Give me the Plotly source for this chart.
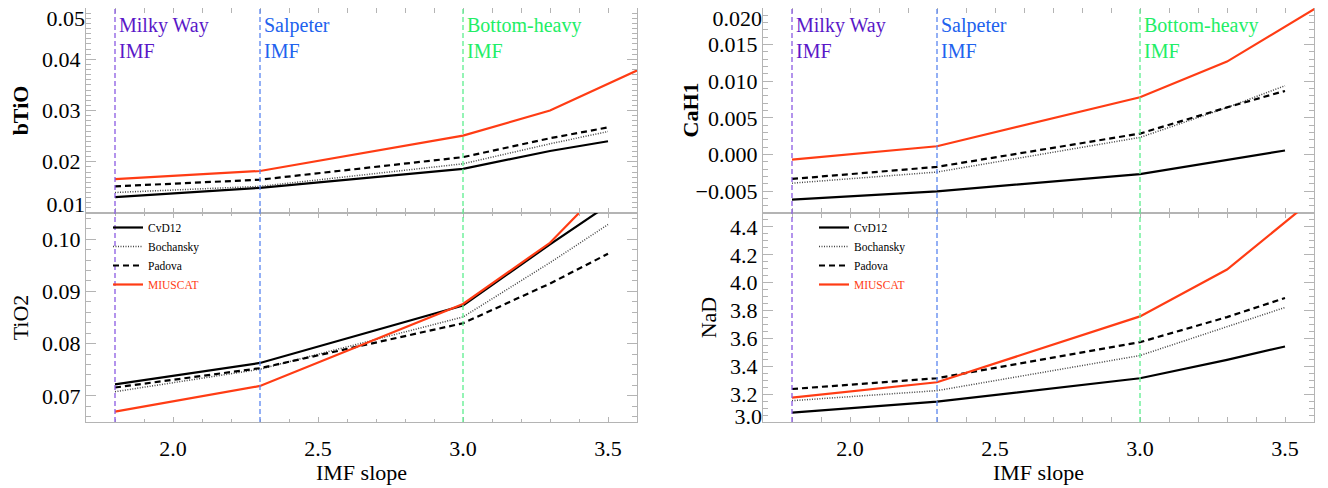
import plotly.graph_objects as go

# ---------------- data ----------------
x_models = [1.8, 2.3, 3.0, 3.3, 3.5]
x_miuscat = [1.8, 2.3, 3.0, 3.3, 3.8]

btio_cvd12 = [0.0131, 0.0149, 0.0186, 0.0221, 0.0240]
btio_boch = [0.0140, 0.0152, 0.0196, 0.0235, 0.0259]
btio_padova = [0.0152, 0.0165, 0.0209, 0.0246, 0.0267]
btio_miuscat = [0.0166, 0.0182, 0.0251, 0.0300, 0.0430]

tio2_cvd12 = [0.0722, 0.0763, 0.0873, 0.0990, 0.1065]
tio2_boch = [0.0708, 0.0751, 0.0851, 0.0955, 0.1028]
tio2_padova = [0.0716, 0.0753, 0.0839, 0.0915, 0.0972]
tio2_miuscat = [0.0670, 0.0719, 0.0876, 0.0993, 0.1278]

cah1_cvd12 = [-0.00616, -0.00505, -0.00268, -0.00071, 0.00054]
cah1_boch = [-0.00393, -0.00241, 0.00232, 0.00640, 0.00938]
cah1_padova = [-0.00335, -0.00170, 0.00285, 0.00643, 0.00867]
cah1_miuscat = [-0.00071, 0.00112, 0.00781, 0.01268, 0.02460]

nad_cvd12 = [3.067, 3.146, 3.314, 3.446, 3.542]
nad_boch = [3.153, 3.225, 3.477, 3.686, 3.822]
nad_padova = [3.237, 3.314, 3.573, 3.753, 3.890]
nad_miuscat = [3.175, 3.285, 3.758, 4.094, 4.943]

model_names = ["CvD12", "Bochansky", "Padova", "MIUSCAT"]
imf_refs = [1.8, 2.3, 3.0]
imf_labels = ["Milky Way<br>IMF", "Salpeter<br>IMF", "Bottom-heavy<br>IMF"]
imf_text_colors = ["#5a18c8", "#2162ee", "#22ee66"]
imf_line_colors = ["#8a5ae2", "#5a86f0", "#5cee8e"]

# ---------------- styles ----------------
RED = "#ff3c14"
FONT = "Liberation Serif"
styles = [
    dict(color="black", width=2.2, dash="solid"),
    dict(color="#444444", width=1.5, dash="1px,1.5px"),
    dict(color="black", width=2.2, dash="6px,4px"),
    dict(color=RED, width=2.2, dash="solid"),
]
legend_names = model_names[:3] + [f"<span style='color:{RED}'>MIUSCAT</span>"]

# the page body has an 8px margin: figure is drawn at (8, 8) in the window
OFF = 8
W, H = 1320, 480
def px(v):
    return min(max((v - OFF) / W, 0.0), 1.0)
def py(v):
    return min(max((H - (v - OFF)) / H, 0.0), 1.0)

left_dom = [px(86), px(637)]
right_dom = [px(763), px(1314)]
top_dom = [py(213), py(8)]
bot_dom = [py(422), py(213)]

fig = go.Figure()

panels = [
    ([btio_cvd12, btio_boch, btio_padova, btio_miuscat], "x", "y", None),
    ([tio2_cvd12, tio2_boch, tio2_padova, tio2_miuscat], "x2", "y2", "legend"),
    ([cah1_cvd12, cah1_boch, cah1_padova, cah1_miuscat], "x3", "y3", None),
    ([nad_cvd12, nad_boch, nad_padova, nad_miuscat], "x4", "y4", "legend2"),
]

for series, xa, ya, leg in panels:
    for i, vals in enumerate(series):
        xs = x_miuscat if i == 3 else x_models
        kw = dict(showlegend=False)
        if leg is not None:
            kw = dict(showlegend=True, legend=leg)
        fig.add_trace(go.Scatter(
            x=xs, y=vals, mode="lines", name=legend_names[i],
            line=styles[i], xaxis=xa, yaxis=ya, hoverinfo="skip", **kw))

AXC = "#b4b4b4"
TICKFONT = dict(family=FONT, size=22, color="black")
TITLEFONT = dict(family=FONT, size=22, color="black")

def xaxis(domain, anchor, labels, title=None):
    d = dict(domain=domain, anchor=anchor, range=[1.70, 3.60], automargin=False,
             showgrid=False, zeroline=False, showline=True, linecolor=AXC, linewidth=1.2,
             mirror="allticks", ticks="inside", ticklen=5, tickcolor=AXC, tickwidth=1,
             dtick=0.5, tick0=2.0, tickformat=".1f", ticklabelstandoff=6,
             minor=dict(dtick=0.1, tick0=2.0, ticks="inside", ticklen=3, tickcolor=AXC),
             showticklabels=labels, tickfont=TICKFONT)
    if title:
        d["title"] = dict(text=title, font=TITLEFONT, standoff=1)
    return d

def yaxis(domain, anchor, rng, dtick, minor, fmt, title, bold, standoff, hide):
    d = dict(domain=domain, anchor=anchor, range=rng, automargin=False,
             showgrid=False, zeroline=False, showline=True, linecolor=AXC, linewidth=1.2,
             mirror="allticks", ticks="inside", ticklen=10, tickcolor=AXC, tickwidth=1,
             dtick=dtick, tick0=0, tickformat=fmt, labelalias={h: "" for h in hide},
             minor=dict(dtick=minor, tick0=0, ticks="inside", ticklen=5, tickcolor=AXC),
             tickfont=TICKFONT)
    if title:
        t = f"<b>{title}</b>" if bold else title
        d["title"] = dict(text=t, font=TITLEFONT, standoff=standoff)
    return d

def edge_axis(domain, anchor, overlay, rng, val, text, shift):
    # extra overlaid axis used only to place an edge tick label slightly inside the frame
    return dict(domain=domain, anchor=anchor, overlaying=overlay, side="left", range=rng,
                automargin=False, showgrid=False, zeroline=False, showline=False, ticks="",
                tickmode="array", tickvals=[val], ticktext=[text], ticklabelshift=shift,
                ticklabeloverflow="allow", tickfont=TICKFONT)

# empty traces so that the overlaid label axes get drawn
for xa, ya in [("x", "y5"), ("x", "y6"), ("x3", "y7"), ("x4", "y8")]:
    fig.add_trace(go.Scatter(x=[None], y=[None], mode="lines", xaxis=xa, yaxis=ya,
                             showlegend=False, hoverinfo="skip"))

fig.update_layout(
    width=W, height=H,
    margin=dict(l=0, r=0, t=0, b=0),
    paper_bgcolor="white", plot_bgcolor="white",
    xaxis=xaxis(left_dom, "y", False),
    xaxis2=xaxis(left_dom, "y2", True, "IMF slope"),
    xaxis3=xaxis(right_dom, "y3", False),
    xaxis4=xaxis(right_dom, "y4", True, "IMF slope"),
    yaxis=yaxis(top_dom, "x", [0.01, 0.05], 0.01, 0.001, ".2f", "bTiO", True, 14, ["0.01", "0.05"]),
    yaxis2=yaxis(bot_dom, "x2", [0.065, 0.105], 0.01, 0.002, ".2f", "TiO2", False, 14, []),
    yaxis3=yaxis(top_dom, "x3", [-0.008, 0.020], 0.005, 0.001, ".3f", None, True, 0, ["0.020"]),
    yaxis4=yaxis(bot_dom, "x4", [3.0, 4.5], 0.2, 0.05, ".1f", "NaD", False, 7, ["3.0"]),
    yaxis5=edge_axis(top_dom, "x", "y", [0.01, 0.05], 0.049999, "0.05", 10),
    yaxis6=edge_axis(top_dom, "x", "y", [0.01, 0.05], 0.010001, "0.01", -9),
    yaxis7=edge_axis(top_dom, "x3", "y3", [-0.008, 0.020], 0.019999, "0.020", 10),
    yaxis8=edge_axis(bot_dom, "x4", "y4", [3.0, 4.5], 3.0001, "3.0", -6),
    legend=dict(x=px(108), y=py(213), xanchor="left", yanchor="top",
                bgcolor="rgba(0,0,0,0)", font=dict(family=FONT, size=11.5, color="black"),
                tracegroupgap=0, itemwidth=30),
    legend2=dict(x=px(814), y=py(213), xanchor="left", yanchor="top",
                 bgcolor="rgba(0,0,0,0)", font=dict(family=FONT, size=11.5, color="black"),
                 tracegroupgap=0, itemwidth=30),
)

shapes = []
annotations = []
for xa in ["x", "x3"]:
    for xv, lab, tc, lc in zip(imf_refs, imf_labels, imf_text_colors, imf_line_colors):
        shapes.append(dict(type="line", xref=xa, yref="paper", x0=xv, x1=xv,
                           y0=bot_dom[0], y1=top_dom[1],
                           line=dict(color=lc, width=1.3, dash="5px,3px")))
        annotations.append(dict(xref=xa, yref="paper", x=xv, y=py(12), xanchor="left",
                                yanchor="top", xshift=2, text=lab, showarrow=False, align="left",
                                font=dict(family=FONT, size=20, color=tc)))
# y title of the top-right panel, sitting close to its tick labels as in the original
annotations.append(dict(xref="paper", yref="paper", x=px(690), y=(top_dom[0] + top_dom[1]) / 2,
                        xanchor="center", yanchor="middle", textangle=-90, showarrow=False,
                        text="<b>CaH1</b>", font=TITLEFONT))
fig.update_layout(shapes=shapes, annotations=annotations)

fig.write_html("out.html")
